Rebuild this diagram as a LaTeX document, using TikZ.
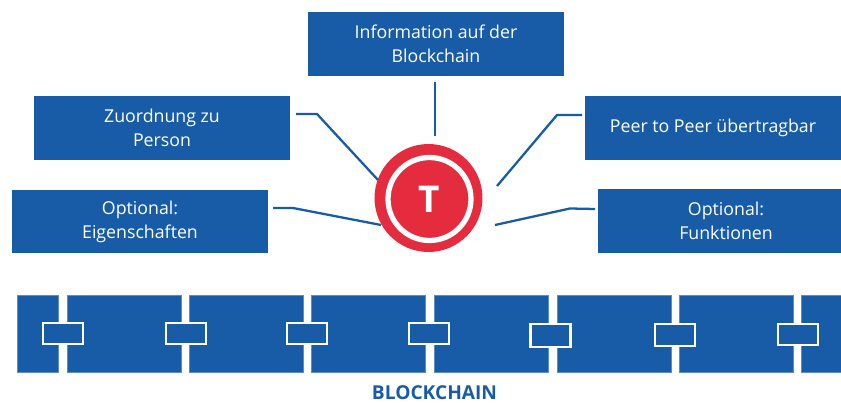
\documentclass[tikz,border=0pt]{standalone}
\usepackage{fontspec}
\setmainfont{Open Sans}
\usepackage{tikz}
\definecolor{chainblue}{RGB}{24,92,167}
\definecolor{tokenred}{RGB}{228,44,62}
\tikzset{
	infobox/.style={fill=chainblue, text=white, align=center, minimum height=1.27cm, inner sep=0pt, font=\fontsize{10.1}{13.6}\selectfont},
	chainblock/.style={fill=chainblue, draw=chainblue!70!white, thin, minimum height=1.54cm, inner sep=0pt},
	chainlink/.style={fill=chainblue, draw=white, line width=1.3pt, minimum width=.8cm, inner sep=0pt},
	feeler/.style={draw=chainblue, line width=1.3pt}
}
\begin{document}
\begin{tikzpicture}[x=.02cm, y=-.02cm]
			\useasboundingbox (0, 0) rectangle (841, 402);
			\clip (0, 0) rectangle (841, 402);
			\node[infobox, minimum width=5.12cm] (information) at (436, 44) {Information auf der\\Blockchain};
			\node[infobox, minimum width=5.12cm] (zuordnung) at (162, 128) {Zuordnung zu\\Person};
			\node[infobox, minimum width=5.12cm] (peer) at (713, 128) {Peer to Peer übertragbar};
			\node[infobox, minimum width=5.12cm] (eigenschaften) at (140, 221.5) {Optional:\\Eigenschaften};
			\node[infobox, minimum width=5.12cm] (funktionen) at (726, 221) {Optional:\\Funktionen};
			% token
			\node[circle, fill=tokenred, minimum size=2.16cm, inner sep=0pt] (token) at (428.5, 198) {};
			\node[circle, draw=white, line width=3pt, fill=tokenred, minimum size=1.66cm, inner sep=0pt, text=white, font=\fontsize{21}{21}\selectfont\bfseries] (tokenT) at (429.5, 199) {T};
			% feelers
			\coordinate (infoStart) at (435, 82);
			\coordinate (infoEnd) at (435, 136);
			\coordinate (zuoStart) at (296, 114);
			\coordinate (zuoBend) at (317, 114);
			\coordinate (zuoEnd) at (378, 180);
			\coordinate (peerStart) at (582, 115);
			\coordinate (peerBend) at (557, 115);
			\coordinate (peerEnd) at (497, 186);
			\coordinate (eigStart) at (273, 208);
			\coordinate (eigBend) at (293, 208);
			\coordinate (eigEnd) at (381, 225);
			\coordinate (funkStart) at (595, 209);
			\coordinate (funkBend) at (570, 208.5);
			\coordinate (funkEnd) at (495, 225);
			\draw[feeler] (infoStart) -- (infoEnd);
			\draw[feeler] (zuoStart) -- (zuoBend) -- (zuoEnd);
			\draw[feeler] (peerStart) -- (peerBend) -- (peerEnd);
			\draw[feeler] (eigStart) -- (eigBend) -- (eigEnd);
			\draw[feeler] (funkStart) -- (funkBend) -- (funkEnd);
			% chain
			\node[chainblock, minimum width=.82cm] (blockA) at (37.5, 333.5) {};
			\foreach \name/\cx in {blockB/124, blockC/246, blockD/368, blockE/491, blockF/614, blockG/736.5}
				\node[chainblock, minimum width=2.28cm] (\name) at (\cx, 333.5) {};
			\node[chainblock, minimum width=.8cm] (blockH) at (821, 333.5) {};
			\foreach \name/\cx/\cy/\hgt in {linkA/63/333.5/.42cm, linkB/186/333.5/.42cm, linkC/307/333.5/.42cm, linkD/429/333.5/.42cm, linkE/550.5/335.5/.46cm, linkF/675/335/.44cm, linkG/798/334.5/.42cm}
				\node[chainlink, minimum height=\hgt] (\name) at (\cx, \cy) {};
			\node[text=chainblue, inner sep=0pt, font=\fontsize{10.9}{12}\selectfont\bfseries] (blockchain) at (434.5, 393) {BLOCKCHAIN};
		\end{tikzpicture}
\end{document}
